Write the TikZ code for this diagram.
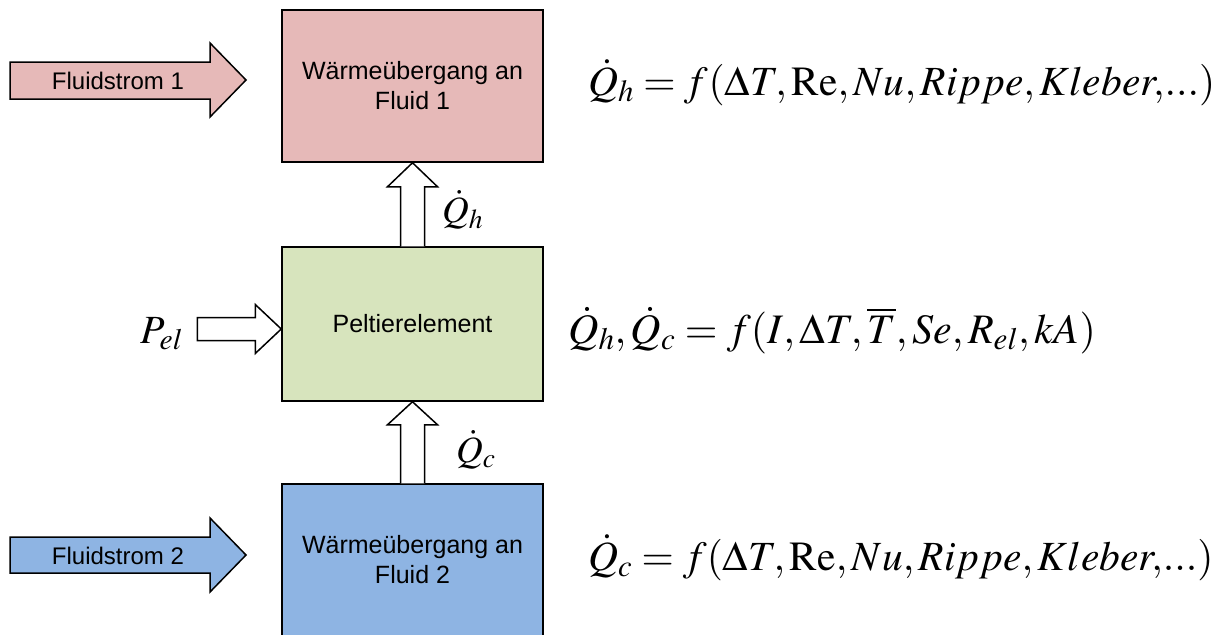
\documentclass[tikz,border=0pt]{standalone}
\usepackage{mathptmx}
\usepackage[no-math]{fontspec}
\setmainfont{Liberation Serif}
\setsansfont{Liberation Sans}
\usetikzlibrary{calc}
\definecolor{hotfill}{RGB}{230,185,184}
\definecolor{peltfill}{RGB}{215,228,189}
\definecolor{coldfill}{RGB}{142,180,227}
\tikzset{
  blockbox/.style={draw=black, line width=1.5pt, minimum width=261pt, align=center,
    font=\sffamily\fontsize{25}{30}\selectfont, inner sep=0pt},
  fatarrow/.style={draw=black, line width=1.5pt, line join=miter},
  flowtext/.style={font=\sffamily\fontsize{24}{28}\selectfont, inner sep=0pt},
  eqtext/.style={font=\fontsize{42}{50}\selectfont, inner sep=0pt, anchor=base west},
  eqwide/.style={eqtext, font=\fontsize{41.5}{50}\selectfont},
  qlabel/.style={font=\fontsize{37}{44}\selectfont, inner sep=0pt, anchor=base west}
}
\begin{document}
\begin{tikzpicture}[x=1pt, y=-1pt]
\useasboundingbox (0,0) rectangle (1222,634);

% the three blocks
\node[blockbox, fill=hotfill, minimum height=152pt] (hot) at (412.5,86) {Wärmeübergang an\\Fluid 1};
\node[blockbox, fill=peltfill, minimum height=154pt] (pelt) at (412.5,324) {Peltierelement};
\node[blockbox, fill=coldfill, minimum height=152pt] (cold) at (412.5,560) {Wärmeübergang an\\Fluid 2};

% incoming fluid streams
\draw[fatarrow, fill=hotfill] (10,62) -- (210,62) -- (210,43) -- (246,80) -- (210,117) -- (210,99) -- (10,99) -- cycle;
\node[flowtext] (flow1) at (118,81) {Fluidstrom 1};
\draw[fatarrow, fill=coldfill] (10,537) -- (210,537) -- (210,518) -- (246,555) -- (210,592) -- (210,573) -- (10,573) -- cycle;
\node[flowtext] (flow2) at (118,556) {Fluidstrom 2};

% electrical power input
\node[font=\fontsize{40}{48}\selectfont, inner sep=0pt, anchor=base west] (pel) at (140,343) {$P_{el}$};
\coordinate (pin) at ($(pelt.west)+(0,5)$);
\draw[fatarrow, fill=white]
  ($(pin)+(-84,-11.5)$) -- ($(pin)+(-26,-11.5)$) -- ($(pin)+(-26,-24.5)$) -- (pin)
  -- ($(pin)+(-26,24.5)$) -- ($(pin)+(-26,11.5)$) -- ($(pin)+(-84,11.5)$) -- cycle;

% heat flow from the Peltier element to fluid 1
\draw[fatarrow, fill=white]
  ($(pelt.north)+(-12,0)$) -- ($(hot.south)+(-12,24)$) -- ($(hot.south)+(-25,24)$) -- (hot.south)
  -- ($(hot.south)+(25,24)$) -- ($(hot.south)+(12,24)$) -- ($(pelt.north)+(12,0)$);
\node[qlabel] (qh) at (442,222) {$\dot{Q}_h$};

% heat flow from fluid 2 into the Peltier element
\draw[fatarrow, fill=white]
  ($(cold.north)+(-12,0)$) -- ($(pelt.south)+(-12,23)$) -- ($(pelt.south)+(-25,23)$) -- (pelt.south)
  -- ($(pelt.south)+(25,23)$) -- ($(pelt.south)+(12,23)$) -- ($(cold.north)+(12,0)$);
\node[qlabel] (qc) at (456,462) {$\dot{Q}_c$};

% model equations
\node[eqwide] (eqh) at (588,95) {$\dot{Q}_h = f(\Delta T,\mathrm{Re},Nu,Rippe,Kleber,\!...)$};
\node[eqtext] (eqp) at (568,343) {$\dot{Q}_h,\dot{Q}_c = f(I,\Delta T,\overline{T},Se,R_{el},kA)$};
\node[eqwide] (eqc) at (588,570) {$\dot{Q}_c = f(\Delta T,\mathrm{Re},Nu,Rippe,Kleber,\!...)$};
\end{tikzpicture}
\end{document}
